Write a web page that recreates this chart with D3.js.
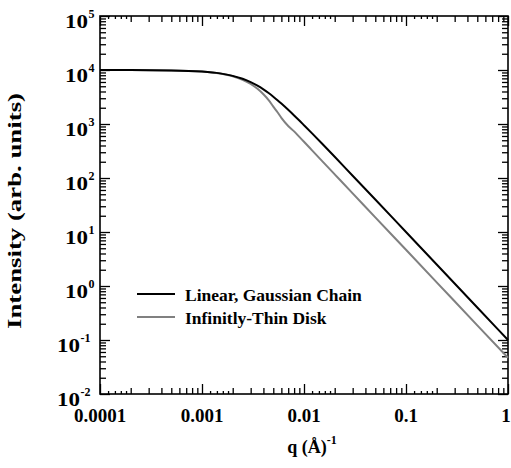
<!DOCTYPE html>
<html>
<head>
<meta charset="utf-8">
<script src="https://cdn.jsdelivr.net/npm/d3@7"></script>
<style>
body { margin: 0; background: #fff; }
text { font-family: "Liberation Serif", "Times New Roman", serif; font-weight: bold; fill: #000; }
</style>
</head>
<body>
<svg id="chart" width="511" height="468"></svg>
<script>
// values
var qValues = [0.0001, 0.0002, 0.0005, 0.001, 0.0015, 0.002, 0.0025, 0.003, 0.0035, 0.004, 0.0045, 0.005,
    0.0055, 0.006, 0.007, 0.008, 0.009, 0.01, 0.012, 0.015, 0.02, 0.03, 0.05, 0.1, 0.2, 0.5, 1];
var chainIntensity = [9990, 9970, 9840, 9370, 8660, 7790, 6870, 5960, 5120, 4380, 3740, 3200,
    2760, 2390, 1830, 1440, 1160, 950, 670, 435, 247, 110, 40, 10, 2.5, 0.4, 0.1];
var diskIntensity = [9993, 9973, 9835, 9360, 8600, 7670, 6600, 5510, 4480, 3550, 2770, 2100,
    1650, 1300, 920, 731, 578, 468, 325, 208, 117, 52, 18.7, 4.68, 1.17, 0.187, 0.047];
var seriesNames = ["Linear, Gaussian Chain", "Infinitly-Thin Disk"];
var seriesColors = ["#000000", "#808080"];

var xTickValues = [0.0001, 0.001, 0.01, 0.1, 1];
var xTickLabels = ["0.0001", "0.001", "0.01", "0.1", "1"];
var xMinorSmall = [1.2, 1.4, 1.6, 1.8];
var xMinorMid = [2, 3, 4, 5, 6, 7, 8, 9];
var yTickValues = [1e5, 1e4, 1e3, 1e2, 1e1, 1e0, 1e-1, 1e-2];
var yTickExponents = ["5", "4", "3", "2", "1", "0", "-1", "-2"];
var yMinor = [2, 3, 4, 5, 6, 7, 8, 9];

var margin = {left: 100, right: 3, top: 16, bottom: 74};
var width = 511 - margin.left - margin.right;
var height = 468 - margin.top - margin.bottom;

var svg = d3.select("#chart");
var g = svg.append("g").attr("transform", "translate(" + margin.left + "," + margin.top + ")");

var x = d3.scaleLog().domain([0.0001, 1]).range([0, width]);
var y = d3.scaleLog().domain([0.01, 1e5]).range([height, 0]);

function minorList(decades, mults) {
    var out = [];
    for (var i = 0; i < decades.length - 1; i++) {
        for (var j = 0; j < mults.length; j++) {
            out.push(decades[i] * mults[j]);
        }
    }
    return out;
}
var xSmall = minorList(xTickValues, xMinorSmall);
var xMid = minorList(xTickValues, xMinorMid);
var yMid = minorList(yTickValues.slice().reverse(), yMinor);

// ticks on all four sides, pointing inwards
function tickAxis(axisFn, scale, values, size, transform) {
    var a = g.append("g")
        .attr("transform", transform)
        .call(axisFn(scale).tickValues(values).tickSize(size).tickFormat(""));
    a.select(".domain").remove();
    a.selectAll("line").attr("stroke", "#000").attr("stroke-width", 1.3);
}
[[xTickValues, 10], [xMid, 6], [xSmall, 3]].forEach(function (t) {
    tickAxis(d3.axisBottom, x, t[0], -t[1], "translate(0," + height + ")");
    tickAxis(d3.axisTop, x, t[0], -t[1], "translate(0,0)");
});
[[yTickValues, 10], [yMid, 6]].forEach(function (t) {
    tickAxis(d3.axisLeft, y, t[0], -t[1], "translate(0,0)");
    tickAxis(d3.axisRight, y, t[0], -t[1], "translate(" + width + ",0)");
});

g.append("rect")
    .attr("width", width)
    .attr("height", height)
    .attr("fill", "none")
    .attr("stroke", "#000")
    .attr("stroke-width", 1.6);

// x labels (last one kept inside the page)
g.selectAll(".xlabel")
    .data(xTickValues)
    .enter().append("text")
    .attr("class", "xlabel")
    .attr("x", function (d) { return Math.min(x(d), width - 2); })
    .attr("y", height + 28)
    .attr("text-anchor", "middle")
    .style("font-size", "19px")
    .text(function (d, i) { return xTickLabels[i]; });

// y labels as 10^n, "10" drawn wide like the original
yTickValues.forEach(function (d, i) {
    var exp = yTickExponents[i];
    var right = exp.charAt(0) === "-" ? -20 : -12;
    g.append("text")
        .attr("x", right)
        .attr("y", y(d) + 12)
        .attr("text-anchor", "end")
        .attr("textLength", 23)
        .attr("lengthAdjust", "spacingAndGlyphs")
        .style("font-size", "18px")
        .text("10");
    g.append("text")
        .attr("x", right + 0.5)
        .attr("y", y(d) + 2)
        .style("font-size", "12px")
        .text(exp);
});

// curves
var line = d3.line()
    .x(function (d) { return x(d[0]); })
    .y(function (d) { return y(d[1]); })
    .curve(d3.curveMonotoneX);
var series = [chainIntensity, diskIntensity];
series.slice().reverse().forEach(function (vals, k) {
    var idx = series.length - 1 - k;
    g.append("path")
        .datum(qValues.map(function (q, i) { return [q, vals[i]]; }))
        .attr("fill", "none")
        .attr("stroke", seriesColors[idx])
        .attr("stroke-width", 2)
        .attr("d", line);
});

// legend
var legend = g.append("g").attr("transform", "translate(37,278)");
seriesNames.forEach(function (name, i) {
    legend.append("line")
        .attr("x1", 0).attr("x2", 38)
        .attr("y1", i * 23).attr("y2", i * 23)
        .attr("stroke", seriesColors[i])
        .attr("stroke-width", 2);
    legend.append("text")
        .attr("x", 48)
        .attr("y", i * 23 + 7)
        .style("font-size", "17.5px")
        .text(name);
});

// axis titles
var xt = svg.append("text")
    .attr("x", 312)
    .attr("y", 453)
    .attr("text-anchor", "middle")
    .style("font-size", "18px");
xt.append("tspan").text("q (\u00C5)");
xt.append("tspan").attr("dy", -9).style("font-size", "12px").text("-1");

svg.append("text")
    .attr("transform", "translate(21,211) rotate(-90)")
    .attr("text-anchor", "middle")
    .attr("textLength", 236)
    .attr("lengthAdjust", "spacingAndGlyphs")
    .style("font-size", "18px")
    .text("Intensity (arb. units)");
</script>
</body>
</html>
